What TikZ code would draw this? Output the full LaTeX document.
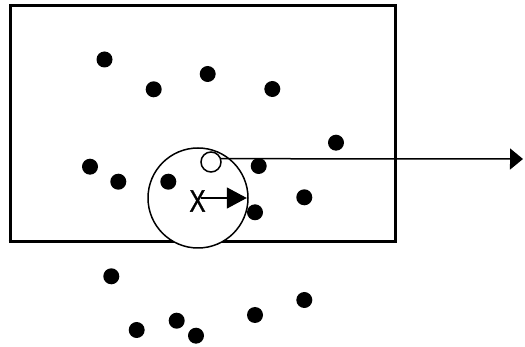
\documentclass[tikz,border=0pt]{standalone}
\usepackage{fontspec}
\newfontfamily\xfont[FakeBold=1.2]{Liberation Sans}
\usetikzlibrary{arrows.meta}
\begin{document}
\begin{tikzpicture}[x=1pt,y=-1pt,
  dot/.style={circle,fill=black,inner sep=0pt,minimum size=16pt},
  frame/.style={draw=black,line width=3pt},
  thin/.style={draw=black,line width=1.5pt},
  bigtip/.style={-{Triangle[length=13pt,width=21pt]}},
  smalltip/.style={-{Triangle[length=20pt,width=21pt]}}]
\useasboundingbox (0,0) rectangle (525,347);
\fill[white] (0,0) rectangle (525,347);
% frame
\draw[frame] (10,6) rectangle (395,242);
% large circle
\node[thin,circle,fill=white,minimum size=100pt,inner sep=0pt] (big) at (198,198) {};
\draw[frame] (8.5,242) -- (160,242);
\draw[frame] (236,242) -- (396.5,242);
% dots
\node[dot] (d1) at (104.5,59.5) {};
\node[dot] (d2) at (153.7,89.3) {};
\node[dot] (d3) at (207.7,74) {};
\node[dot] (d4) at (272.3,89) {};
\node[dot] (d5) at (336,142.7) {};
\node[dot] (d6) at (90,166.7) {};
\node[dot] (d7) at (118.3,181.7) {};
\node[dot] (d8) at (168.3,181.7) {};
\begin{scope}
  \clip (240,159) rectangle (280,185);
  \node[dot] (d9) at (258.7,166) {};
\end{scope}
\node[dot] (d10) at (304.3,197.3) {};
\node[dot] (d11) at (255,212.3) {};
\node[dot] (d12) at (111.3,276.3) {};
\node[dot] (d13) at (304.3,300) {};
\node[dot] (d14) at (255,315) {};
\node[dot] (d15) at (176.7,320.7) {};
\node[dot] (d16) at (136.7,330) {};
\node[dot] (d17) at (196,335.7) {};
% hollow circle
\node[thin,circle,fill=white,minimum size=20pt,inner sep=0pt] (hc) at (211,162) {};
% X label
\node[inner sep=0pt,xscale=0.78,font=\xfont\fontsize{31}{31}\selectfont] (X) at (197.5,201) {X};
% arrows
\coordinate (far) at (523,159);
\draw[thin,bigtip] (hc.18) -- (far);
\draw[thin,smalltip] ([xshift=-5pt,yshift=3pt]X.east) -- ([yshift=3pt]X.east -| d11.west);
\end{tikzpicture}
\end{document}
